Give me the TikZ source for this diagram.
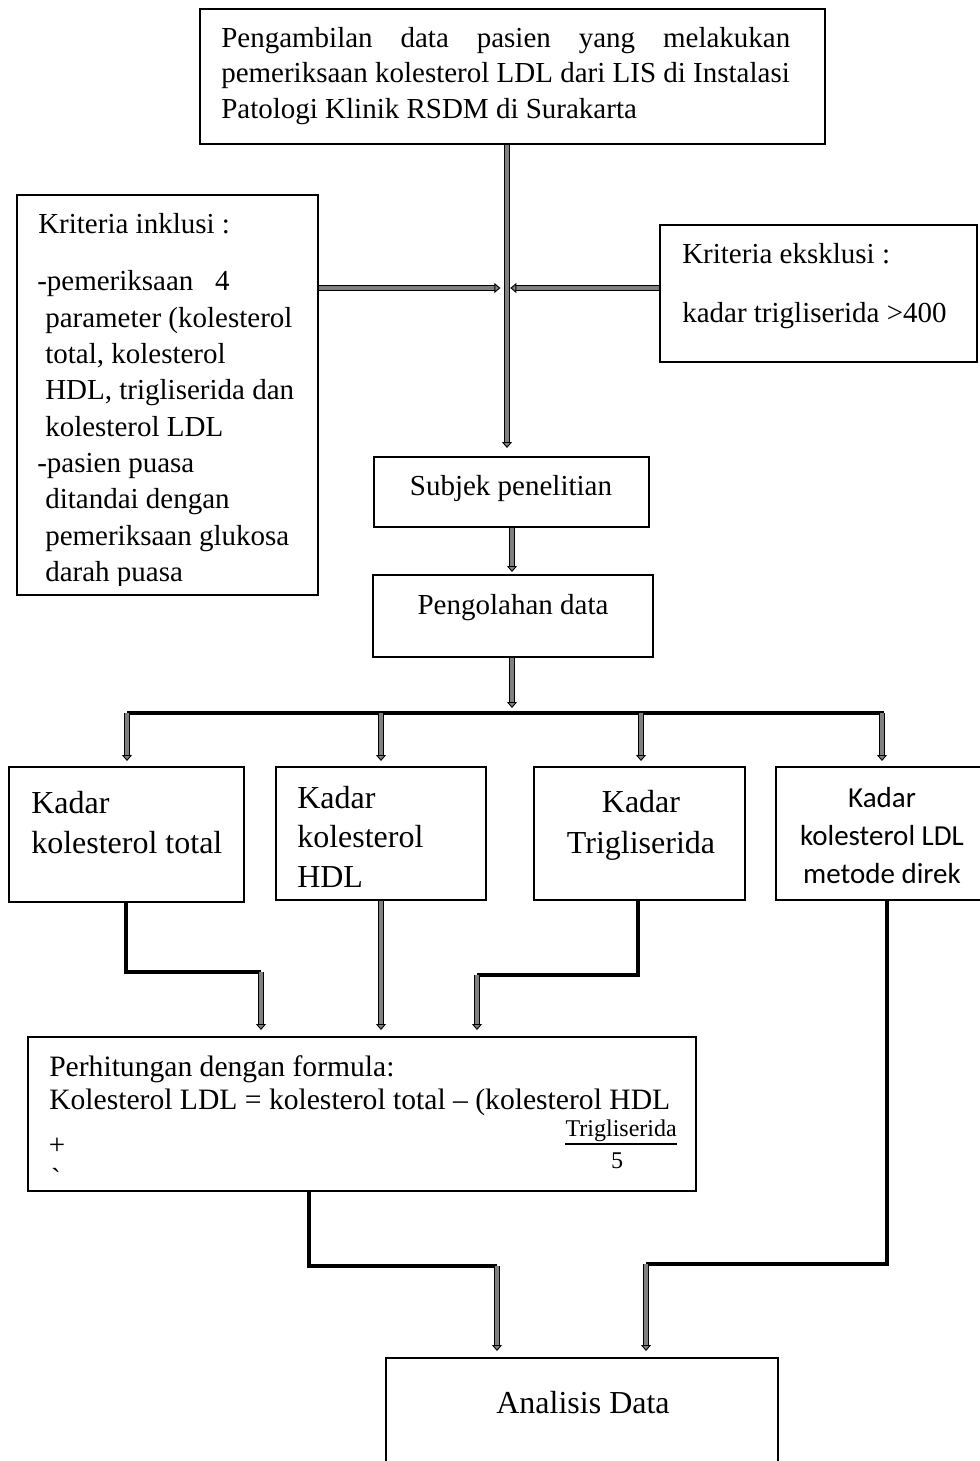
\documentclass[tikz,border=0pt]{standalone}
\usepackage{fontspec}
\setmainfont{Liberation Serif}
\newfontfamily\carlitofont{Carlito}
\usetikzlibrary{arrows.meta,fit}
\newcommand{\fntA}{\fontsize{21.75pt}{27pt}\selectfont}
\newcommand{\fntB}{\fontsize{24pt}{30pt}\selectfont}
\newcommand{\fntF}{\fontsize{22.2pt}{27pt}\selectfont}
\newcommand{\fntS}{\fontsize{18pt}{22pt}\selectfont}
\newcommand{\fntC}{\carlitofont\fontsize{21.75pt}{27pt}\selectfont}
\begin{document}
\begin{tikzpicture}[x=0.75pt,y=-0.75pt,
  box/.style={draw, line width=1.5pt, inner sep=0pt},
  garrow/.style={draw=black, line width=0.7pt, double=gray, double distance=2.4pt,
    -{Triangle[length=4.5pt,width=7.5pt,fill=gray]}},
  bline/.style={draw=black, line width=2.6pt},
  busline/.style={draw=black, line width=3pt},
  lt/.style={anchor=base west, inner sep=0pt},
  ct/.style={anchor=base, inner sep=0pt},
  rt/.style={anchor=base east, inner sep=0pt}]
\useasboundingbox (0,0) rectangle (980,1461);
\clip (0,0) rectangle (980,1461);

% boxes
\node[box, fit={(200,9)(825,144)}] (top) {};
\node[box, fit={(17,195)(318,595)}] (inkl) {};
\node[box, fit={(660,225)(977,362)}] (eks) {};
\node[box, fit={(374,457)(649,527)}] (subj) {};
\node[box, fit={(373,575)(653,657)}] (olah) {};
\node[box, fit={(9,767)(244,902)}] (k1) {};
\node[box, fit={(276,767)(486,900)}] (k2) {};
\node[box, fit={(534,767)(745,900)}] (k3) {};
\node[box, fit={(776,767)(995,900)}] (k4) {};
\node[box, fit={(28,1037)(696,1191)}] (form) {};
\node[box, fit={(386,1358)(778,1490)}] (anal) {};

% texts
\node[lt, font=\fntA] (t1) at (221,47) {\makebox[426.75pt][s]{Pengambilan data pasien yang melakukan}};
\node[lt, font=\fntA] (t2) at (221,82) {pemeriksaan kolesterol LDL dari LIS di Instalasi};
\node[lt, font=\fntA] (t3) at (221,118) {Patologi Klinik RSDM di Surakarta};

\begin{scope}
\clip (17,195) rectangle (318,585);
\node[lt, font=\fntA] (i0) at (38,233) {Kriteria inklusi :};
\node[lt, font=\fntA] (i1) at (37,290) {-pemeriksaan\hspace{0.5em} 4};
\node[lt, font=\fntA] (i2) at (45,327) {parameter (kolesterol};
\node[lt, font=\fntA] (i3) at (45,363) {total, kolesterol};
\node[lt, font=\fntA] (i4) at (45,399) {HDL, trigliserida dan};
\node[lt, font=\fntA] (i5) at (45,436) {kolesterol LDL};
\node[lt, font=\fntA] (i6) at (37,472) {-pasien puasa};
\node[lt, font=\fntA] (i7) at (45,508) {ditandai dengan};
\node[lt, font=\fntA] (i8) at (45,545) {pemeriksaan glukosa};
\node[lt, font=\fntA] (i9) at (45,581) {darah puasa};
\end{scope}

\node[lt, font=\fntA] (e0) at (682,263) {Kriteria eksklusi :};
\node[lt, font=\fntA] (e1) at (682,322) {kadar trigliserida >400};

\node[ct, font=\fntA] (st) at (511,495) {Subjek penelitian};
\node[ct, font=\fntA] (ot) at (513,614) {Pengolahan data};

\node[lt, font=\fntB] (k1a) at (31,813) {Kadar};
\node[lt, font=\fntB] (k1b) at (31,853) {kolesterol total};
\node[lt, font=\fntB] (k2a) at (297,808) {Kadar};
\node[lt, font=\fntB] (k2b) at (297,847) {kolesterol};
\node[lt, font=\fntB] (k2c) at (297,887) {HDL};
\node[ct, font=\fntB] (k3a) at (641,812) {Kadar};
\node[ct, font=\fntB] (k3b) at (641,853) {Trigliserida};
\node[ct, font=\fntC] (k4a) at (882,807) {Kadar};
\node[ct, font=\fntC] (k4b) at (882,845) {kolesterol LDL};
\node[ct, font=\fntC] (k4c) at (882,883) {metode direk};

\node[lt, font=\fntF] (f1) at (49,1076) {Perhitungan dengan formula:};
\node[lt, font=\fntF] (f2) at (49,1109) {Kolesterol LDL = kolesterol total – (kolesterol HDL};
\node[inner sep=0pt, font=\fntA] (f3) at (57,1146) {+};
\node[inner sep=0pt, font=\fntA] (f4) at (56,1178) {\textasciigrave};
\node[rt, font=\fntS] (fn) at (677,1136) {Trigliserida};
\node[ct, font=\fntS] (fd) at (617,1168) {5};
\draw[line width=1.2pt] (fn.base west |- 0,1144) -- (fn.base east |- 0,1144);

\node[ct, font=\fntB] (at) at (583,1413) {Analisis Data};

% connectors
\coordinate (vx) at (507,0);
\coordinate (hy) at (0,288);
\draw[garrow, shorten >=6pt] (top.south -| vx) -- (subj.north -| vx);
\draw[garrow, shorten >=5pt] (inkl.east |- hy) -- (vx |- hy);
\draw[garrow, shorten >=2.5pt] (eks.west |- hy) -- (vx |- hy);

\coordinate (sx) at (512,0);
\draw[garrow, shorten >=1.5pt] (subj.south -| sx) -- (olah.north -| sx);

\coordinate (busL) at (127,713);
\coordinate (busR) at (884,713);
\draw[busline] (busL) -- (busR);
\draw[garrow, shorten >=3.75pt] (olah.south -| sx) -- (sx |- busL);

\coordinate (bx1) at (127,0);
\coordinate (bx2) at (381,0);
\coordinate (bx3) at (641,0);
\coordinate (bx4) at (882,0);
\draw[garrow, shorten >=3.75pt] (bx1 |- busL) -- (k1.north -| bx1);
\draw[garrow, shorten >=3.75pt] (bx2 |- busL) -- (k2.north -| bx2);
\draw[garrow, shorten >=3.75pt] (bx3 |- busL) -- (k3.north -| bx3);
\draw[garrow, shorten >=3.75pt] (bx4 |- busL) -- (k4.north -| bx4);

\coordinate (j1) at (126,972);
\coordinate (j1b) at (261,972);
\draw[bline] (k1.south -| j1) -- (j1) -- (j1b);
\draw[garrow, shorten >=4.5pt] (j1b) -- (form.north -| j1b);

\draw[garrow, shorten >=4.5pt] (k2.south -| bx2) -- (form.north -| bx2);

\coordinate (j3) at (638,975);
\coordinate (j3b) at (477,975);
\draw[bline] (k3.south -| j3) -- (j3) -- (j3b);
\draw[garrow, shorten >=4.5pt] (j3b) -- (form.north -| j3b);

\coordinate (j5) at (309,1266);
\coordinate (j5b) at (497,1266);
\draw[bline] (form.south -| j5) -- (j5) -- (j5b);
\draw[garrow, shorten >=4.5pt] (j5b) -- (anal.north -| j5b);

\coordinate (j6) at (887,1264);
\coordinate (j6b) at (646,1264);
\draw[bline] (k4.south -| j6) -- (j6) -- (j6b);
\draw[garrow, shorten >=4.5pt] (j6b) -- (anal.north -| j6b);
\end{tikzpicture}
\end{document}
